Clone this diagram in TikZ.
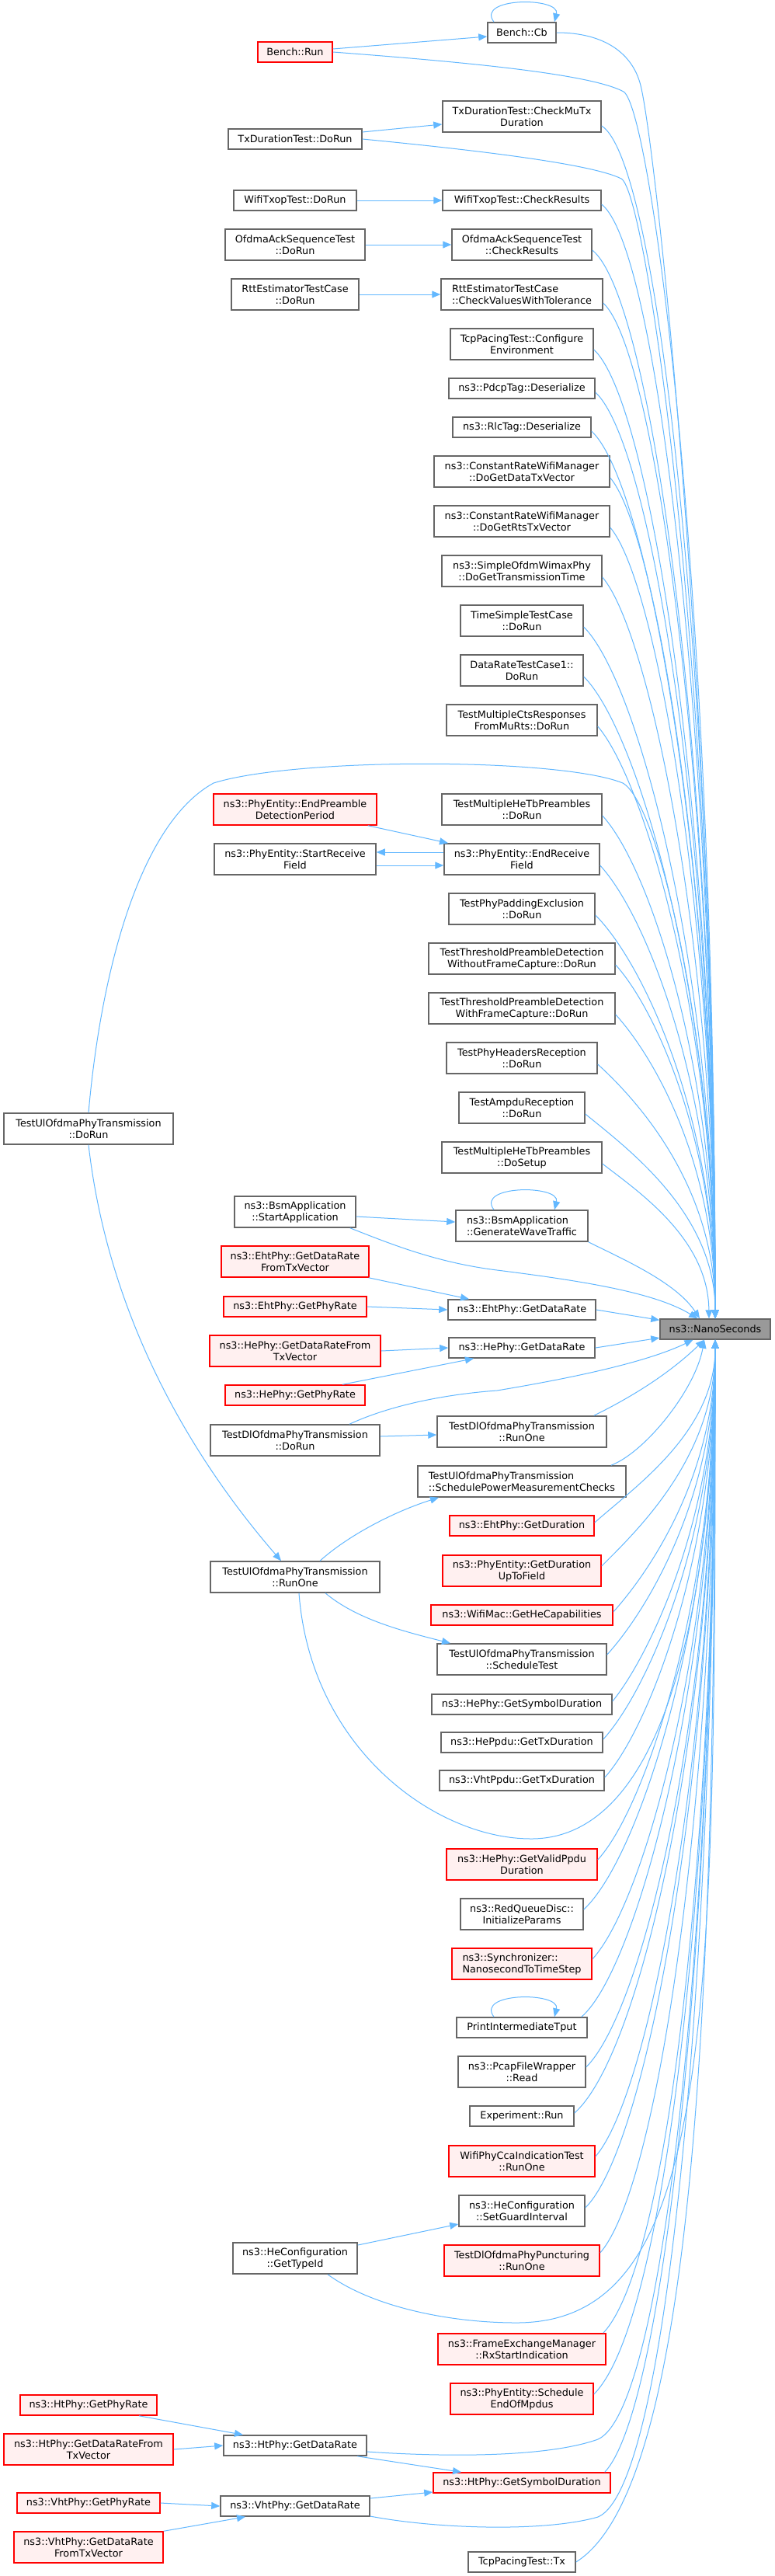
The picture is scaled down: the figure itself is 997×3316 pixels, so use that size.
\documentclass[tikz,border=0pt]{standalone}
\usepackage{fontspec}
\setmainfont{DejaVu Sans}
\usetikzlibrary{arrows.meta,calc}
\definecolor{edgeblue}{HTML}{63B8FF}
\definecolor{boxgray}{HTML}{666666}
\definecolor{redfill}{HTML}{FFF0F0}
\definecolor{nanofill}{HTML}{999999}
\newcommand\nfont{\fontsize{12.8bp}{15bp}\selectfont}
\begin{document}
\begin{tikzpicture}[x=1bp,y=-1bp,
  box/.style={draw=boxgray, fill=white, line width=1.5bp, inner sep=0pt, align=center, font=\nfont, text=black},
  one/.style={minimum height=26bp},
  two/.style={minimum height=40bp},
  trunc/.style={draw=red, fill=redfill},
  edge/.style={draw=edgeblue, line width=1bp, -{Triangle[length=11bp,width=9bp]}}]
\fill[white] (0,0) rectangle (997,3316);
\useasboundingbox (0,0) rectangle (997,3316);
% ---------- rank 1 (x=672)
\node[box,one,minimum width=88bp] (cb) at (672,42) {Bench::Cb};
\node[box,two,minimum width=204bp] (mutx) at (672,150) {TxDurationTest::CheckMuTx\\Duration};
\node[box,one,minimum width=204bp] (txopcr) at (672,258) {WifiTxopTest::CheckResults};
\node[box,two,minimum width=180bp] (ofdmacr) at (672,315) {OfdmaAckSequenceTest\\::CheckResults};
\node[box,two,align=left,minimum width=208bp] (rttcv) at (672,379) {RttEstimatorTestCase\\::CheckValuesWithTolerance};
\node[box,two,minimum width=184bp] (tcpce) at (672,443) {TcpPacingTest::Configure\\Environment};
\node[box,one,minimum width=188bp] (pdcp) at (672,500) {ns3::PdcpTag::Deserialize};
\node[box,one,minimum width=178bp] (rlc) at (672,550) {ns3::RlcTag::Deserialize};
\node[box,two,minimum width=226bp] (crdata) at (672,607) {ns3::ConstantRateWifiManager\\::DoGetDataTxVector};
\node[box,two,minimum width=226bp] (crrts) at (672,671) {ns3::ConstantRateWifiManager\\::DoGetRtsTxVector};
\node[box,two,minimum width=206bp] (sowp) at (672,735) {ns3::SimpleOfdmWimaxPhy\\::DoGetTransmissionTime};
\node[box,two,minimum width=158bp] (tstc) at (672,799) {TimeSimpleTestCase\\::DoRun};
\node[box,two,minimum width=158bp] (drtc) at (672,863) {DataRateTestCase1::\\DoRun};
\node[box,two,minimum width=194bp] (tmcts) at (672,927) {TestMultipleCtsResponses\\FromMuRts::DoRun};
\node[box,two,minimum width=206bp] (tmhdorun) at (672,1042) {TestMultipleHeTbPreambles\\::DoRun};
\node[box,two,minimum width=200bp] (erf) at (672,1106) {ns3::PhyEntity::EndReceive\\Field};
\node[box,two,minimum width=188bp] (tppe) at (672,1170) {TestPhyPaddingExclusion\\::DoRun};
\node[box,two,minimum width=240bp] (ttpwo) at (672,1234) {TestThresholdPreambleDetection\\WithoutFrameCapture::DoRun};
\node[box,two,minimum width=240bp] (ttpw) at (672,1298) {TestThresholdPreambleDetection\\WithFrameCapture::DoRun};
\node[box,two,minimum width=194bp] (tphr) at (672,1362) {TestPhyHeadersReception\\::DoRun};
\node[box,two,minimum width=162bp] (tar) at (672,1426) {TestAmpduReception\\::DoRun};
\node[box,two,minimum width=206bp] (tmhdosetup) at (672,1490) {TestMultipleHeTbPreambles\\::DoSetup};
\node[box,two,align=left,minimum width=170bp] (gwt) at (672,1578) {ns3::BsmApplication\\::GenerateWaveTraffic};
\node[box,one,minimum width=190bp] (ehtdr) at (672,1686) {ns3::EhtPhy::GetDataRate};
\node[box,one,minimum width=188bp] (hedr) at (672,1735) {ns3::HePhy::GetDataRate};
\node[box,two,minimum width=218bp] (dlrunone) at (672,1843) {TestDlOfdmaPhyTransmission\\::RunOne};
\node[box,two,align=left,minimum width=268bp] (spmc) at (672,1907) {TestUlOfdmaPhyTransmission\\::SchedulePowerMeasurementChecks};
\node[box,one,trunc,minimum width=186bp] (ehtdur) at (672,1964) {ns3::EhtPhy::GetDuration};
\node[box,two,trunc,minimum width=204bp] (pegd) at (672,2022) {ns3::PhyEntity::GetDuration\\UpToField};
\node[box,one,trunc,minimum width=234bp] (hecap) at (672,2079) {ns3::WifiMac::GetHeCapabilities};
\node[box,two,minimum width=218bp] (schedtest) at (672,2136) {TestUlOfdmaPhyTransmission\\::ScheduleTest};
\node[box,one,minimum width=232bp] (hesym) at (672,2194) {ns3::HePhy::GetSymbolDuration};
\node[box,one,minimum width=208bp] (heppdu) at (672,2243) {ns3::HePpdu::GetTxDuration};
\node[box,one,minimum width=212bp] (vhtppdu) at (672,2292) {ns3::VhtPpdu::GetTxDuration};
\node[box,two,trunc,minimum width=194bp] (hevalid) at (672,2400) {ns3::HePhy::GetValidPpdu\\Duration};
\node[box,two,minimum width=158bp] (redq) at (672,2464) {ns3::RedQueueDisc::\\InitializeParams};
\node[box,two,trunc,align=left,minimum width=180bp] (sync) at (672,2528) {ns3::Synchronizer::\\NanosecondToTimeStep};
\node[box,one,minimum width=168bp] (pit) at (672,2610) {PrintIntermediateTput};
\node[box,two,minimum width=164bp] (pcap) at (672,2667) {ns3::PcapFileWrapper\\::Read};
\node[box,one,minimum width=134bp] (expr) at (672,2724) {Experiment::Run};
\node[box,two,trunc,minimum width=188bp] (wpcca) at (672,2782) {WifiPhyCcaIndicationTest\\::RunOne};
\node[box,two,minimum width=162bp] (hesgi) at (672,2846) {ns3::HeConfiguration\\::SetGuardInterval};
\node[box,two,trunc,minimum width=200bp] (dlpunc) at (672,2910) {TestDlOfdmaPhyPuncturing\\::RunOne};
\node[box,two,trunc,minimum width=216bp] (fem) at (672,3024) {ns3::FrameExchangeManager\\::RxStartIndication};
\node[box,two,trunc,minimum width=184bp] (pesched) at (672,3088) {ns3::PhyEntity::Schedule\\EndOfMpdus};
\node[box,one,trunc,minimum width=228bp] (htsym) at (672,3196) {ns3::HtPhy::GetSymbolDuration};
\node[box,one,minimum width=138bp] (tcptx) at (672,3298) {TcpPacingTest::Tx};
% ---------- target
\node[box,one,fill=nanofill,minimum width=142bp] (nano) at (921,1711) {ns3::NanoSeconds};
% ---------- rank 2 (x=380)
\node[box,one,trunc,minimum width=96bp] (brun) at (380,67) {Bench::Run};
\node[box,one,minimum width=172bp] (txdorun) at (380,179) {TxDurationTest::DoRun};
\node[box,one,minimum width=158bp] (txopdorun) at (380,258) {WifiTxopTest::DoRun};
\node[box,two,minimum width=180bp] (ofdmadorun) at (380,315) {OfdmaAckSequenceTest\\::DoRun};
\node[box,two,minimum width=164bp] (rttdorun) at (380,379) {RttEstimatorTestCase\\::DoRun};
\node[box,two,trunc,minimum width=210bp] (epdp) at (380,1042) {ns3::PhyEntity::EndPreamble\\DetectionPeriod};
\node[box,two,minimum width=208bp] (srf) at (380,1106) {ns3::PhyEntity::StartReceive\\Field};
\node[box,two,minimum width=156bp] (startapp) at (380,1560) {ns3::BsmApplication\\::StartApplication};
\node[box,two,trunc,minimum width=190bp] (ehtdrtx) at (380,1624) {ns3::EhtPhy::GetDataRate\\FromTxVector};
\node[box,one,trunc,minimum width=184bp] (ehtpr) at (380,1682) {ns3::EhtPhy::GetPhyRate};
\node[box,two,trunc,minimum width=220bp] (hedrtx) at (380,1739) {ns3::HePhy::GetDataRateFrom\\TxVector};
\node[box,one,trunc,minimum width=180bp] (hepr) at (380,1796) {ns3::HePhy::GetPhyRate};
\node[box,two,minimum width=218bp] (dldorun) at (380,1854) {TestDlOfdmaPhyTransmission\\::DoRun};
\node[box,two,minimum width=218bp] (ulrunone) at (380,2030) {TestUlOfdmaPhyTransmission\\::RunOne};
\node[box,two,minimum width=160bp] (hegtid) at (380,2907) {ns3::HeConfiguration\\::GetTypeId};
\node[box,one,minimum width=184bp] (htdr) at (380,3148) {ns3::HtPhy::GetDataRate};
\node[box,one,minimum width=192bp] (vhtdr) at (380,3226) {ns3::VhtPhy::GetDataRate};
% ---------- rank 3 (x=114)
\node[box,two,minimum width=218bp] (uldorun) at (114,1453) {TestUlOfdmaPhyTransmission\\::DoRun};
\node[box,one,trunc,minimum width=176bp] (htpr) at (114,3096) {ns3::HtPhy::GetPhyRate};
\node[box,two,trunc,minimum width=218bp] (htdrtx) at (114,3153) {ns3::HtPhy::GetDataRateFrom\\TxVector};
\node[box,one,trunc,minimum width=184bp] (vhtpr) at (114,3222) {ns3::VhtPhy::GetPhyRate};
\node[box,two,trunc,minimum width=192bp] (vhtdrtx) at (114,3279) {ns3::VhtPhy::GetDataRate\\FromTxVector};
% ---------- short edges
\draw[edge] ([yshift=4bp]brun.east) -- ([yshift=-5bp]cb.west);
\draw[edge] ([yshift=9bp]txdorun.east) -- ([yshift=-10bp]mutx.west);
\draw[edge] (txopdorun.east) -- (txopcr.west);
\draw[edge] (ofdmadorun.east) -- (ofdmacr.west);
\draw[edge] (rttdorun.east) -- (rttcv.west);
\draw[edge] ([xshift=-12bp]epdp.south east) -- ([xshift=-95bp]erf.north);
\draw[edge] ([yshift=9bp]erf.west) -- ([yshift=9bp]srf.east);
\draw[edge] ([yshift=-8bp]srf.east) -- ([yshift=-8bp]erf.west);
\draw[edge] ([yshift=-6bp]startapp.east) -- ([yshift=5bp]gwt.west);
\draw[edge] ([xshift=-1bp]ehtdrtx.south east) -- ([xshift=-68bp]ehtdr.north);
\draw[edge] (ehtpr.east) -- (ehtdr.west);
\draw[edge] (hedrtx.east) -- (hedr.west);
\draw[edge] ([xshift=61bp]hepr.north) -- ([xshift=-62bp]hedr.south);
\draw[edge] ([yshift=5bp]dldorun.east) -- ([yshift=-4bp]dlrunone.west);
\draw[edge] ([yshift=17bp]hegtid.east) -- ([yshift=-17bp]hesgi.west);
\draw[edge] ([xshift=65bp]htpr.south) -- ([xshift=-67bp]htdr.north);
\draw[edge] (htdrtx.east) -- (htdr.west);
\draw[edge] ([xshift=80bp]htdr.south) -- ([xshift=-78bp]htsym.north);
\draw[edge] (vhtpr.east) -- (vhtdr.west);
\draw[edge] (vhtdrtx.north east) -- ([xshift=-64bp]vhtdr.south);
\draw[edge] ([yshift=10bp]vhtdr.east) -- ([yshift=-12bp]htsym.west);
\draw[edge] (ehtdr.east) -- (nano);
\draw[edge] (hedr.east) -- (nano);
% ---------- self loops
\draw[edge] ([xshift=-36bp]cb.north) .. controls (612,-4) and (722,-4) .. ([xshift=42bp]cb.north);
\draw[edge] ([xshift=-36bp]gwt.north) .. controls (612,1525) and (722,1525) .. ([xshift=42bp]gwt.north);
\draw[edge] ([xshift=-36bp]pit.north) .. controls (612,2564) and (722,2564) .. ([xshift=42bp]pit.north);
% ---------- curved edges into NanoSeconds from above
\draw[edge] (cb.east) .. controls (780,42) and (815,70) .. (825,110) .. controls (845,190) and (921,900) .. (nano.north);
\draw[edge] (brun.east) .. controls (600,80) and (760,95) .. (803,118) .. controls (838,140) and (921,750) .. (nano.north);
\draw[edge] ([yshift=-12bp]mutx.east) .. controls +(76,48) and (921,900) .. (nano.north);
\draw[edge] (txdorun.east) .. controls (600,192) and (760,210) .. (800,230) .. controls (832,246) and (921,850) .. (nano.north);
\draw[edge] ([yshift=-5bp]txopcr.east) .. controls +(75,60) and (921,978) .. (nano.north);
\draw[edge] ([yshift=-7bp]ofdmacr.east) .. controls +(80,65) and (921,1006) .. (nano.north);
\draw[edge] ([yshift=-11bp]rttcv.east) .. controls +(70,65) and (921,1038) .. (nano.north);
\draw[edge] ([yshift=-7bp]tcpce.east) .. controls +(75,70) and (921,1070) .. (nano.north);
\draw[edge] ([yshift=-5bp]pdcp.east) .. controls +(75,70) and (921,1099) .. (nano.north);
\draw[edge] ([yshift=-5bp]rlc.east) .. controls +(75,70) and (921,1124) .. (nano.north);
\draw[edge] ([yshift=-8bp]crdata.east) .. controls +(60,70) and (921,1152) .. (nano.north);
\draw[edge] ([yshift=-8bp]crrts.east) .. controls +(60,70) and (921,1184) .. (nano.north);
\draw[edge] ([yshift=-8bp]sowp.east) .. controls +(60,70) and (921,1216) .. (nano.north);
\draw[edge] ([yshift=-8bp]tstc.east) .. controls +(70,70) and (921,1248) .. (nano.north);
\draw[edge] ([yshift=-8bp]drtc.east) .. controls +(70,70) and (921,1280) .. (nano.north);
\draw[edge] ([yshift=-8bp]tmcts.east) .. controls +(60,70) and (921,1312) .. (nano.north);
\draw[edge] (uldorun.north) .. controls (130,1250) and (180,1060) .. (275,1008) .. controls (380,975) and (720,975) .. (802,1008) .. controls (850,1035) and (921,1350) .. (nano.north);
\draw[edge] ([yshift=-8bp]tmhdorun.east) .. controls +(60,65) and (921,1370) .. (nano.north);
\draw[edge] ([yshift=-8bp]erf.east) .. controls +(60,65) and (921,1402) .. (nano.north);
\draw[edge] ([yshift=-8bp]tppe.east) .. controls +(60,60) and (921,1434) .. (nano.north);
\draw[edge] ([yshift=-8bp]ttpwo.east) .. controls +(50,55) and (921,1466) .. (nano.north);
\draw[edge] ([yshift=-8bp]ttpw.east) .. controls +(50,55) and (921,1498) .. (nano.north);
\draw[edge] ([yshift=-8bp]tphr.east) .. controls +(55,50) and (921,1530) .. (nano.north);
\draw[edge] ([yshift=-8bp]tar.east) .. controls +(55,45) and (921,1562) .. (nano.north);
\draw[edge] ([yshift=-8bp]tmhdosetup.east) .. controls +(45,35) and (912,1594) .. ([xshift=-8bp]nano.north);
\draw[edge] (gwt.south east) .. controls (800,1620) and (870,1650) .. ([xshift=-20bp]nano.north);
\draw[edge] ([xshift=-8bp]startapp.south east) .. controls (500,1600) and (560,1625) .. (640,1635) .. controls (760,1650) and (845,1665) .. (nano);
% ---------- curved edges into NanoSeconds from below
\draw[edge] ([xshift=70bp]dldorun.north) .. controls (500,1810) and (570,1795) .. (640,1790) .. controls (760,1770) and (840,1750) .. (nano);
\draw[edge] ([xshift=-17bp]dlrunone.north east) .. controls (810,1800) and (860,1770) .. (nano);
\draw[edge] ([xshift=-20bp]spmc.north east) .. controls (830,1870) and (895,1790) .. ([xshift=-14bp]nano.south);
\draw[edge] ([yshift=4bp]ehtdur.east) .. controls +(50,-45) and (921,1844) .. (nano.south);
\draw[edge] ([yshift=6bp]pegd.east) .. controls +(50,-50) and (921,1873) .. (nano.south);
\draw[edge] ([yshift=4bp]hecap.east) .. controls +(45,-50) and (921,1901) .. (nano.south);
\draw[edge] ([yshift=6bp]schedtest.east) .. controls +(50,-55) and (921,1930) .. (nano.south);
\draw[edge] ([yshift=4bp]hesym.east) .. controls +(45,-55) and (921,1959) .. (nano.south);
\draw[edge] ([yshift=4bp]heppdu.east) .. controls +(55,-60) and (921,1983) .. (nano.south);
\draw[edge] ([yshift=4bp]vhtppdu.east) .. controls +(55,-60) and (921,2008) .. (nano.south);
\draw[edge] ([yshift=6bp]hevalid.east) .. controls +(60,-65) and (921,2062) .. (nano.south);
\draw[edge] ([yshift=6bp]redq.east) .. controls +(70,-65) and (921,2094) .. (nano.south);
\draw[edge] ([yshift=6bp]sync.east) .. controls +(65,-70) and (921,2126) .. (nano.south);
\draw[edge] ([xshift=-8bp]pit.north east) .. controls +(70,-60) and (921,2167) .. (nano.south);
\draw[edge] ([yshift=6bp]pcap.east) .. controls +(75,-75) and (921,2195) .. (nano.south);
\draw[edge] ([yshift=4bp]expr.east) .. controls +(85,-75) and (921,2224) .. (nano.south);
\draw[edge] ([yshift=6bp]wpcca.east) .. controls +(70,-80) and (921,2253) .. (nano.south);
\draw[edge] ([yshift=4bp]hesgi.east) .. controls +(80,-80) and (921,2285) .. (nano.south);
\draw[edge] ([yshift=10bp]dlpunc.east) .. controls +(75,-85) and (921,2317) .. (nano.south);
\draw[edge] ([xshift=-4bp]fem.north east) .. controls +(85,-90) and (921,2374) .. (nano.south);
\draw[edge] ([yshift=6bp]pesched.east) .. controls +(95,-95) and (921,2406) .. (nano.south);
\draw[edge] ([xshift=-8bp]htsym.north east) .. controls +(80,-85) and (921,2460) .. (nano.south);
\draw[edge] (tcptx.east) .. controls +(160,-100) and (921,2511) .. (nano.south);
% ---------- long curves
\draw[edge] (uldorun.south) .. controls (140,1700) and (250,1880) .. (ulrunone);
\draw[edge] ([xshift=32bp]ulrunone.north) .. controls (450,1975) and (510,1945) .. ([xshift=-107bp]spmc.south);
\draw[edge] ([xshift=39bp]ulrunone.south) .. controls (460,2085) and (520,2100) .. ([xshift=-92bp]schedtest.north);
\draw[edge] ([xshift=5bp]ulrunone.south) .. controls (400,2250) and (560,2367) .. (684,2367) .. controls (830,2367) and (915,2150) .. (nano.south);
\draw[edge] ([xshift=42bp]hegtid.south) .. controls (480,2970) and (580,2990) .. (665,2990) .. controls (920,2990) and (921,2600) .. (nano.south);
\draw[edge] ([yshift=-8bp]htdr.east) .. controls (560,3162) and (700,3165) .. (770,3140) .. controls (860,3100) and (921,2432) .. (nano.south);
\draw[edge] ([yshift=-13bp]vhtdr.east) .. controls (560,3255) and (700,3260) .. (770,3240) .. controls (865,3200) and (921,2480) .. (nano.south);
\end{tikzpicture}
\end{document}
